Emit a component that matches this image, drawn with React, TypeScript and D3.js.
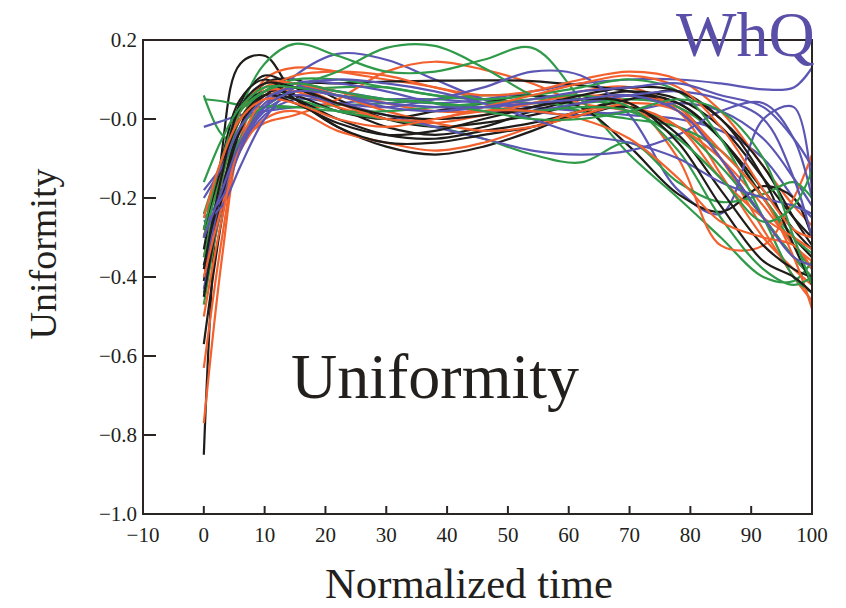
import React from 'react';
import * as d3 from 'd3';

const TIMES = [0, 3, 6, 10, 15, 22, 30, 38, 46, 54, 62, 70, 78, 85, 92, 97, 100];

const X_TICKS = [-10, 0, 10, 20, 30, 40, 50, 60, 70, 80, 90, 100];
const X_TICK_LABELS = ['−10', '0', '10', '20', '30', '40', '50', '60', '70', '80', '90', '100'];
const Y_TICKS = [0.2, 0, -0.2, -0.4, -0.6, -0.8, -1.0];
const Y_TICK_LABELS = ['0.2', '−0.0', '−0.2', '−0.4', '−0.6', '−0.8', '−1.0'];

const BLACK_SERIES = [
  [-0.85, -0.08, 0.14, 0.16, 0.06, -0.02, -0.07, -0.09, -0.07, -0.03, 0.02, 0.05, 0.03, -0.10, -0.25, -0.35, -0.40],
  [-0.57, -0.25, -0.02, 0.09, 0.10, 0.05, 0.00, -0.02, -0.01, 0.01, 0.04, 0.06, 0.04, -0.05, -0.20, -0.30, -0.35],
  [-0.41, -0.15, 0.04, 0.11, 0.08, 0.03, -0.02, -0.04, -0.02, 0.02, 0.05, 0.07, 0.05, -0.02, -0.15, -0.25, -0.30],
  [-0.37, -0.18, -0.02, 0.06, 0.09, 0.09, 0.095, 0.097, 0.098, 0.096, 0.085, 0.07, 0.04, -0.05, -0.18, -0.28, -0.33],
  [-0.30, -0.12, 0.02, 0.07, 0.06, 0.02, 0.00, 0.02, 0.04, 0.06, 0.03, -0.07, -0.19, -0.235, -0.17, -0.20, -0.30],
  [-0.45, -0.20, -0.03, 0.06, 0.05, 0.00, -0.04, -0.05, -0.03, -0.01, 0.02, 0.05, 0.07, 0.00, -0.15, -0.32, -0.42],
  [-0.33, -0.10, 0.05, 0.10, 0.05, -0.02, -0.06, -0.06, -0.04, -0.02, 0.01, 0.03, -0.04, -0.18, -0.32, -0.38, -0.40],
  [-0.28, -0.12, 0.00, 0.06, 0.04, -0.01, -0.04, -0.03, 0.00, 0.03, 0.06, 0.08, 0.07, 0.00, -0.12, -0.25, -0.32],
  [-0.38, -0.14, 0.03, 0.09, 0.08, 0.04, 0.01, 0.00, 0.01, 0.03, 0.05, 0.04, -0.06, -0.22, -0.36, -0.40, -0.44],
];

const ORANGE_SERIES = [
  [-0.77, -0.35, -0.05, 0.10, 0.13, 0.12, 0.10, 0.08, 0.05, 0.04, 0.05, 0.06, 0.03, -0.10, -0.28, -0.40, -0.46],
  [-0.63, -0.30, -0.05, 0.08, 0.09, 0.07, 0.04, 0.02, 0.02, 0.04, 0.07, 0.08, 0.02, -0.14, -0.30, -0.38, -0.42],
  [-0.45, -0.22, -0.06, -0.01, 0.01, 0.05, 0.12, 0.145, 0.125, 0.09, 0.04, 0.02, -0.02, -0.10, -0.22, -0.32, -0.36],
  [-0.28, -0.12, 0.00, 0.07, 0.11, 0.12, 0.11, 0.08, 0.06, 0.07, 0.10, 0.12, 0.10, 0.02, -0.12, -0.22, -0.27],
  [-0.35, -0.15, 0.00, 0.07, 0.07, 0.03, 0.00, -0.01, 0.01, 0.04, 0.06, 0.04, -0.10, -0.32, -0.32, -0.20, -0.09],
  [-0.40, -0.22, -0.08, 0.00, 0.02, -0.03, -0.06, -0.08, -0.06, -0.02, 0.02, 0.03, -0.02, -0.15, -0.25, -0.30, -0.33],
  [-0.30, -0.12, 0.02, 0.09, 0.09, 0.06, 0.02, -0.01, -0.03, -0.02, 0.01, 0.04, 0.02, -0.08, -0.20, -0.35, -0.48],
  [-0.50, -0.25, -0.06, 0.05, 0.08, 0.04, 0.00, 0.00, 0.03, 0.06, 0.09, 0.11, 0.08, -0.02, -0.18, -0.28, -0.30],
  [-0.25, -0.10, 0.00, 0.05, 0.04, 0.00, -0.02, 0.00, 0.02, 0.02, 0.00, -0.05, -0.15, -0.26, -0.30, -0.32, -0.38],
];

const GREEN_SERIES = [
  [0.06, -0.04, -0.06, 0.03, 0.07, 0.08, 0.08, 0.06, 0.05, 0.04, 0.04, 0.05, 0.03, -0.05, -0.20, -0.32, -0.38],
  [0.05, 0.045, 0.035, 0.03, 0.03, 0.035, 0.04, 0.05, 0.06, 0.06, 0.05, 0.03, -0.02, -0.12, -0.25, -0.35, -0.40],
  [-0.47, -0.20, 0.02, 0.14, 0.19, 0.16, 0.12, 0.12, 0.15, 0.18, 0.05, -0.09, -0.20, -0.30, -0.40, -0.41, -0.36],
  [-0.44, -0.22, -0.05, 0.03, 0.08, 0.12, 0.18, 0.185, 0.13, 0.06, 0.02, 0.00, -0.02, -0.08, -0.20, -0.30, -0.34],
  [-0.24, -0.10, 0.02, 0.06, 0.05, 0.02, 0.00, -0.02, -0.05, -0.09, -0.11, -0.06, -0.16, -0.21, -0.19, -0.16, -0.20],
  [-0.35, -0.15, 0.00, 0.07, 0.10, 0.10, 0.08, 0.06, 0.05, 0.06, 0.08, 0.10, 0.07, -0.05, -0.25, -0.40, -0.44],
  [-0.30, -0.14, -0.02, 0.03, 0.03, 0.02, 0.02, 0.03, 0.04, 0.05, 0.06, 0.03, -0.08, -0.25, -0.38, -0.42, -0.40],
  [-0.28, -0.10, 0.02, 0.07, 0.09, 0.07, 0.05, 0.04, 0.03, 0.02, 0.03, 0.02, -0.05, -0.15, -0.26, -0.22, -0.13],
  [-0.16, -0.05, 0.03, 0.08, 0.08, 0.06, 0.05, 0.04, 0.02, 0.00, 0.00, 0.02, 0.05, 0.02, -0.10, -0.30, -0.42],
];

const PURPLE_SERIES = [
  [-0.02, -0.005, 0.01, 0.02, 0.03, 0.04, 0.05, 0.05, 0.04, 0.03, 0.02, 0.01, 0.00, -0.03, -0.10, -0.20, -0.25],
  [-0.18, -0.12, -0.05, 0.03, 0.11, 0.165, 0.15, 0.10, 0.05, 0.02, 0.01, 0.02, 0.04, 0.02, -0.05, -0.15, -0.22],
  [-0.24, -0.16, -0.05, 0.04, 0.08, 0.07, 0.05, 0.04, 0.05, 0.07, 0.09, 0.10, 0.10, 0.09, 0.075, 0.08, 0.13],
  [-0.43, -0.22, -0.08, 0.01, 0.05, 0.04, 0.03, 0.05, 0.08, 0.12, 0.11, 0.01, -0.18, -0.24, 0.00, 0.03, -0.18],
  [-0.38, -0.20, -0.07, 0.02, 0.06, 0.04, 0.01, -0.02, -0.05, -0.08, -0.09, -0.08, -0.04, 0.02, 0.04, -0.05, -0.20],
  [-0.25, -0.20, -0.08, 0.03, 0.09, 0.09, 0.07, 0.04, 0.02, 0.02, 0.04, 0.06, 0.07, 0.05, 0.00, -0.15, -0.30],
  [-0.26, -0.22, -0.12, 0.00, 0.08, 0.10, 0.09, 0.07, 0.04, 0.00, -0.04, -0.06, -0.10, -0.16, -0.20, -0.22, -0.24],
  [-0.20, -0.12, -0.02, 0.05, 0.08, 0.06, 0.03, 0.02, 0.03, 0.05, 0.07, 0.08, 0.09, 0.06, 0.03, -0.05, -0.12],
  [-0.30, -0.18, -0.06, 0.03, 0.07, 0.06, 0.04, 0.03, 0.03, 0.04, 0.05, 0.06, 0.02, -0.10, -0.25, -0.35, -0.37],
];

const COLORS = { black: '#1f1c1a', orange: '#f2612e', green: '#2f9a49', purple: '#5b56b3' };
const TEXT = '#231f1c';
const FONT = '"Liberation Serif", "DejaVu Serif", serif';

export default function App() {
  const W = 846, H = 608;
  const x = d3.scaleLinear().domain([-10, 100]).range([143, 812]);
  const y = d3.scaleLinear().domain([-1.0, 0.2]).range([514, 40]);
  const line = d3
    .line<number>()
    .x((_, i) => x(TIMES[i]))
    .y((d) => y(d))
    .curve(d3.curveCatmullRom.alpha(0.5));

  const groups: { color: string; data: number[] }[] = [];
  for (let i = 0; i < 9; i++) {
    groups.push({ color: COLORS.black, data: BLACK_SERIES[i] });
    groups.push({ color: COLORS.orange, data: ORANGE_SERIES[i] });
    groups.push({ color: COLORS.green, data: GREEN_SERIES[i] });
    groups.push({ color: COLORS.purple, data: PURPLE_SERIES[i] });
  }

  const [x0, x1] = x.range();
  const [yb, yt] = y.range();

  return (
    <svg width={W} height={H} style={{ position: 'absolute', left: 0, top: 0, background: '#fff' }} fontFamily={FONT}>
      <defs>
        <clipPath id="plotClip">
          <rect x={x0} y={yt} width={x1 - x0} height={yb - yt} />
        </clipPath>
      </defs>
      <rect x={0} y={0} width={W} height={H} fill="#fff" />
      <g clipPath="url(#plotClip)">
        {groups.map((g, i) => (
          <path key={i} d={line(g.data) || ''} fill="none" stroke={g.color} strokeWidth={2.2} />
        ))}
      </g>
      <rect x={x0} y={yt} width={x1 - x0} height={yb - yt} fill="none" stroke="#2a2522" strokeWidth={2} />
      {Y_TICKS.map((v, i) => (
        <g key={'y' + i}>
          <line x1={x0} x2={x0 + 13} y1={y(v)} y2={y(v)} stroke="#2a2522" strokeWidth={2} />
          <text x={137} y={y(v)} dy="0.35em" textAnchor="end" fontSize={21} fill={TEXT}>
            {Y_TICK_LABELS[i]}
          </text>
        </g>
      ))}
      {X_TICKS.map((v, i) => (
        <g key={'x' + i}>
          <line x1={x(v)} x2={x(v)} y1={yb} y2={yb - 8} stroke="#2a2522" strokeWidth={2} />
          <text x={x(v)} y={542} textAnchor="middle" fontSize={21} fill={TEXT}>
            {X_TICK_LABELS[i]}
          </text>
        </g>
      ))}
      <text x={469} y={598} textAnchor="middle" fontSize={43} fill={TEXT} textLength={288} lengthAdjust="spacingAndGlyphs">
        Normalized time
      </text>
      <text transform="translate(56,254) rotate(-90)" textAnchor="middle" fontSize={38} fill={TEXT}>
        Uniformity
      </text>
      <text x={435} y={398} textAnchor="middle" fontSize={64} fill={TEXT}>
        Uniformity
      </text>
      <text x={676} y={56} fontSize={64} fill="#5a4fa8">
        WhQ
      </text>
    </svg>
  );
}
